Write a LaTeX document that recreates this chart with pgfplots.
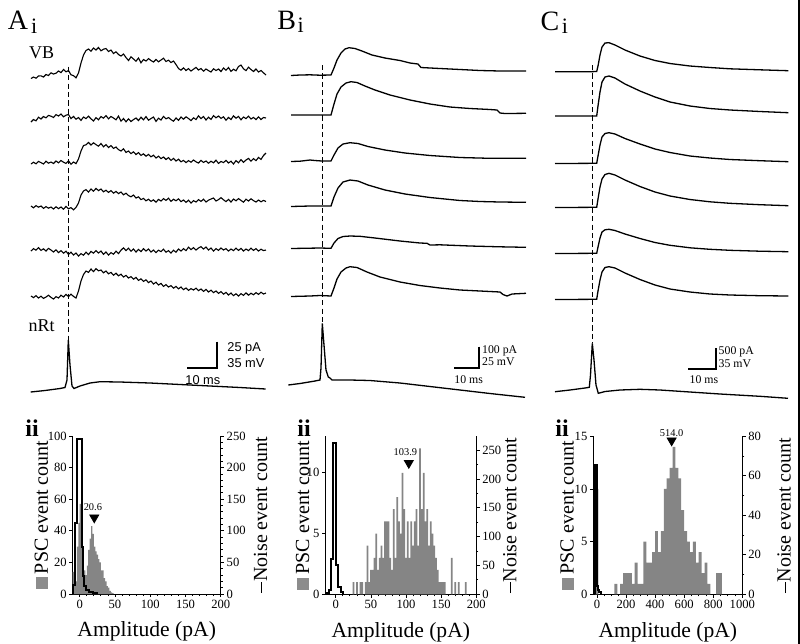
\documentclass[border=0pt]{standalone}
\usepackage{pgfplots}
\pgfplotsset{compat=1.18}
\usepackage{fontspec}
\setmainfont{Liberation Serif}
\newfontfamily\arial{Liberation Sans}
\newcommand\fs[1]{\fontsize{#1}{#1}\selectfont}

\pgfplotsset{
  trace/.style={black, line width=0.55pt, no marks},
  strace/.style={black, line width=0.65pt, no marks},
  stim/.style={black, line width=0.5pt, dash pattern=on 2.6pt off 1.6pt, no marks},
  sbar/.style={black, line width=1pt, no marks},
  hist/.style={scale only axis, height=79pt, anchor=south west, clip=false,
    tick align=outside, major tick length=1.6pt, minor tick length=1pt,
    tick style={black, line width=0.4pt}, axis line style={line width=0.5pt},
    ticklabel style={font=\fs{6.3}, inner sep=1.2pt},
    /pgf/number format/assume math mode=true,
    /pgf/number format/1000 sep={},
    label style={font=\fs{10}}},
  histL/.style={hist, axis x line*=bottom, axis y line*=left,
    xlabel={Amplitude (pA)}, xlabel style={yshift=-2pt, font=\fs{10.8}},
    ylabel={\textcolor{black!45}{\rule{6pt}{6pt}}\,PSC event count},
    ylabel style={at={(axis description cs:#1,0.5)}, anchor=center}},
  histR/.style={hist, axis x line=none, axis y line*=right,
    ylabel={\rule[0.25em]{0.55em}{0.5pt}Noise event count},
    ylabel style={at={(axis description cs:#1,0.5)}, anchor=center}},
  psc/.style={ybar, fill=black!48, draw=none},
  noise/.style={const plot, black, line width=1pt, no marks},
  mean/.style={only marks, mark=triangle*, mark size=2.6pt,
    mark options={rotate=180, fill=black}},
}

\begin{document}
\begin{tikzpicture}
\path[use as bounding box] (0,0) rectangle (400pt,-322pt);

% ---------- traces, in pixel units ----------
\begin{axis}[at={(0,0)}, anchor=north west, scale only axis,
  width=400pt, height=322pt, xmin=0, xmax=800, ymin=0, ymax=644,
  y dir=reverse, hide axis, clip=false]

% A: VB traces
\addplot[trace] coordinates {(31,78.5)(33.5,77)(36,78.2)(38.5,76)(41,75.8)(43.5,77)(46,74.5)(48.5,75.5)(51,72.8)(53.5,74)(56,73.2)(58.5,71)(61,72.6)(63.5,69.5)(66,71.8)(68.5,70.5)(71,74.8)(73.5,75.6)(76,77.8)(78.5,73)(81,63)(83.5,55)(86,50.5)(88.5,49)(91,51.2)(93.5,48)(96,50)(98.5,47.5)(101,50.8)(103.5,49.2)(106,48.5)(108.5,51.5)(111,50)(113.5,53.5)(116,51.8)(118.5,54.5)(121,56)(123.5,54)(126,57.5)(128.5,60.5)(131,56.8)(133.5,59)(136,61.2)(138.5,58)(141,62.8)(143.5,59.5)(146,61)(148.5,58.6)(151,60.5)(153.5,62)(156,59.5)(158.5,61.8)(161,60)(163.5,58.2)(166,61.5)(168.5,60.2)(171,62.5)(173.5,61)(176,64.5)(178.5,68.5)(181,70.2)(183.5,67.8)(186,70.5)(188.5,68.6)(191,71)(193.5,69.2)(196,67.4)(198.5,70)(201,68.5)(203.5,71.2)(206,69)(208.5,70.6)(211,72)(213.5,68.8)(216,70.5)(218.5,69)(221,71.5)(223.5,68)(226,70.2)(228.5,67.5)(231,71.4)(233.5,69.2)(236,70.8)(238.5,66.5)(241,65)(243.5,68.8)(246,70.6)(248.5,67.2)(251,69.5)(253.5,71.5)(256,69)(258.5,72)(261,70.5)(263.5,72.8)(266,75)};
\addplot[trace] coordinates {(31,122)(33.5,119.5)(36,120.8)(38.5,117.2)(41,119)(43.5,116.5)(46,117.8)(48.5,115.4)(51,116.2)(53.5,117.5)(56,114.6)(58.5,116)(61,114)(63.5,116.8)(66,115.2)(68.5,114.5)(71,118.6)(73.5,116.4)(76,119.2)(78.5,117.5)(81,120.4)(83.5,117)(86,118.6)(88.5,116.2)(91,118.8)(93.5,121)(96,117.6)(98.5,119.8)(101,116.5)(103.5,118.2)(106,115.6)(108.5,118.8)(111,116.5)(113.5,118)(116,119.8)(118.5,116)(121,121.2)(123.5,118.5)(126,121.8)(128.5,118.8)(131,121.5)(133.5,119.6)(136,118)(138.5,120.5)(141,117.2)(143.5,119.8)(146,116.6)(148.5,120.2)(151,118.5)(153.5,117)(156,121.4)(158.5,118.2)(161,120)(163.5,116.4)(166,118.8)(168.5,117.5)(171,119.6)(173.5,121.2)(176,118)(178.5,120.4)(181,117)(183.5,119.2)(186,116.8)(188.5,118.5)(191,120.6)(193.5,117.8)(196,119.5)(198.5,115.8)(201,118.6)(203.5,116.5)(206,120)(208.5,117.2)(211,119.4)(213.5,115.6)(216,117.8)(218.5,116)(221,118.4)(223.5,116.8)(226,120.2)(228.5,117.4)(231,119.5)(233.5,115.8)(236,118.2)(238.5,116.4)(241,119.8)(243.5,117)(246,118.6)(248.5,116.2)(251,119)(253.5,117.4)(256,119.6)(258.5,116.8)(261,119.5)(263.5,117.5)(266,118)};
\addplot[trace] coordinates {(31,164)(33.5,162.2)(36,163.8)(38.5,161.4)(41,162.6)(43.5,164)(46,161.2)(48.5,163.2)(51,162)(53.5,163.5)(56,161)(58.5,162.8)(61,160.5)(63.5,162.2)(66,163.4)(68.5,160.8)(71,164.2)(73.5,162)(76,163.6)(78.5,159)(81,151)(83.5,145.5)(86,144.8)(88.5,142.5)(91,145)(93.5,142.8)(96,144.6)(98.5,146.2)(101,143.5)(103.5,146.8)(106,144.6)(108.5,147.5)(111,145.6)(113.5,148.4)(116,147)(118.5,149.6)(121,151)(123.5,148.8)(126,152.4)(128.5,151)(131,153.6)(133.5,151.8)(136,154.5)(138.5,152.6)(141,155.4)(143.5,153.8)(146,156.2)(148.5,154.4)(151,156.8)(153.5,155.2)(156,158)(158.5,156.2)(161,158.6)(163.5,157)(166,159.5)(168.5,157.6)(171,160.4)(173.5,158.4)(176,161)(178.5,159.2)(181,161.8)(183.5,160.4)(186,162.6)(188.5,160.6)(191,162.2)(193.5,160)(196,161.8)(198.5,163)(201,160.4)(203.5,162.4)(206,161)(208.5,163.2)(211,161.2)(213.5,162.8)(216,160.2)(218.5,163.4)(221,161.4)(223.5,162.6)(226,160.4)(228.5,163)(231,161.2)(233.5,164)(236,160.6)(238.5,162.8)(241,159.6)(243.5,162.4)(246,160)(248.5,158.4)(251,161.2)(253.5,158.6)(256,160.6)(258.5,157.4)(261,159.4)(263.5,155.5)(266,153)};
\addplot[trace] coordinates {(31,206)(33.5,207.8)(36,205.6)(38.5,207.2)(41,206)(43.5,208.4)(46,206.6)(48.5,208.2)(51,207)(53.5,209)(56,206.8)(58.5,208.6)(61,207)(63.5,209.2)(66,206.4)(68.5,208.8)(71,207.6)(73.5,209.8)(76,207.4)(78.5,203)(81,195)(83.5,191)(86,189.6)(88.5,192)(91,189)(93.5,191.2)(96,188.4)(98.5,190.6)(101,189)(103.5,191.8)(106,190.2)(108.5,192.4)(111,190.6)(113.5,193.2)(116,191.4)(118.5,193.6)(121,192)(123.5,194.8)(126,193.2)(128.5,195.6)(131,196.8)(133.5,195)(136,198)(138.5,196.8)(141,199.6)(143.5,198.4)(146,200.8)(148.5,199.2)(151,201.4)(153.5,199.8)(156,202.2)(158.5,199.4)(161,201)(163.5,198.6)(166,200.4)(168.5,198.2)(171,201.4)(173.5,199.2)(176,200.8)(178.5,198.8)(181,201.6)(183.5,200)(186,202.4)(188.5,200.2)(191,203)(193.5,200.6)(196,202)(198.5,199.6)(201,201.4)(203.5,199.2)(206,202)(208.5,200.2)(211,199)(213.5,198)(216,201)(218.5,199.6)(221,197.6)(223.5,199.8)(226,201.6)(228.5,199.4)(231,202)(233.5,199)(236,200.8)(238.5,198.6)(241,200.4)(243.5,202.2)(246,199.2)(248.5,201)(251,198.8)(253.5,200.6)(256,202)(258.5,200)(261,201.8)(263.5,200.4)(266,201.5)};
\addplot[trace] coordinates {(31,251)(33.5,248.6)(36,250.2)(38.5,247.6)(41,250.4)(43.5,248.8)(46,251)(48.5,248.4)(51,250)(53.5,252)(56,249.8)(58.5,252.6)(61,250.6)(63.5,253.2)(66,251.2)(68.5,254.4)(71,252.2)(73.5,255)(76,253)(78.5,256)(81,253.6)(83.5,255.2)(86,252.2)(88.5,254.6)(91,251.4)(93.5,253.2)(96,250.6)(98.5,253)(101,251)(103.5,254.4)(106,252)(108.5,255)(111,252.6)(113.5,254.2)(116,251.2)(118.5,253.6)(121,250.2)(123.5,247.8)(126,250.6)(128.5,248.2)(131,251.2)(133.5,249)(136,252)(138.5,249.4)(141,251.6)(143.5,248.6)(146,251)(148.5,249)(151,252)(153.5,250)(156,252.6)(158.5,250.2)(161,251.6)(163.5,249.2)(166,252.2)(168.5,250.6)(171,253)(173.5,250.2)(176,252.2)(178.5,249)(181,251)(183.5,248.6)(186,250.6)(188.5,247.2)(191,249.6)(193.5,247.6)(196,250)(198.5,248)(201,246.6)(203.5,249)(206,247)(208.5,250)(211,248)(213.5,251)(216,248.6)(218.5,250.4)(221,248)(223.5,250)(226,248.6)(228.5,251)(231,249)(233.5,250.6)(236,248.2)(238.5,250.4)(241,248.4)(243.5,251)(246,249)(248.5,250.6)(251,248.2)(253.5,250.4)(256,248.6)(258.5,251)(261,249.2)(263.5,250.6)(266,250)};
\addplot[trace] coordinates {(31,296)(33.5,297.6)(36,295.6)(38.5,298)(41,296.2)(43.5,298.4)(46,297)(48.5,295.2)(51,297.4)(53.5,299)(56,296.6)(58.5,298)(61,295.2)(63.5,297)(66,294.4)(68.5,296.6)(71,294.2)(73.5,296.4)(76,298)(78.5,291)(81,281)(83.5,274.5)(86,271)(88.5,272.4)(91,269)(93.5,271.6)(96,268.6)(98.5,270.8)(101,270)(103.5,272.8)(106,271)(108.5,273.8)(111,272.4)(113.5,275.2)(116,273.2)(118.5,275.8)(121,274.2)(123.5,277)(126,275.4)(128.5,278)(131,276.6)(133.5,279.2)(136,277.4)(138.5,280.4)(141,278.8)(143.5,281.4)(146,279.8)(148.5,282.6)(151,281)(153.5,284)(156,282.2)(158.5,285)(161,283.4)(163.5,286.4)(166,284.6)(168.5,287)(171,285.6)(173.5,288.2)(176,286.4)(178.5,288.8)(181,287)(183.5,289.6)(186,288)(188.5,290.4)(191,288.6)(193.5,290)(196,288.2)(198.5,290.6)(201,289)(203.5,291.4)(206,289.4)(208.5,292)(211,290.2)(213.5,292.6)(216,291)(218.5,293.4)(221,291.6)(223.5,294.2)(226,292.4)(228.5,295)(231,293)(233.5,295.6)(236,293.8)(238.5,296)(241,293.6)(243.5,295.4)(246,292.8)(248.5,295.2)(251,293.2)(253.5,294.8)(256,292.6)(258.5,294.4)(261,292.2)(263.5,294)(266,293)};
% A: nRt
\addplot[strace] coordinates {(30.7,392)(45,390.5)(60,388.5)(65,387.5)(67,380)(68.3,340)(70,365)(72,386)(74,388.5)(80,386)(90,383)(100,381.7)(120,382)(150,383)(180,384.5)(210,386)(240,387.5)(265.7,389)};
\addplot[stim] coordinates {(68.3,66.7)(68.3,340)};
\addplot[sbar] coordinates {(216.7,341.7)(216.7,368.3)(187.3,368.3)};

% B traces
\addplot[strace] coordinates {(291,75.5)(300,75)(310,74.8)(320,75.2)(331,75)(334,68)(337,60)(341,53)(345,49)(349,47.7)(355,48.5)(362,51)(372,55)(385,58)(400,60.5)(410,63)(418,64)(421,67.5)(440,68.5)(460,69.5)(480,70.5)(500,71)(526,71)};
\addplot[strace] coordinates {(291,115)(331,115)(334,104)(337,94)(341,87)(346,83)(351,81.7)(357,82.5)(365,86)(375,90)(390,95)(410,100)(430,104)(450,107)(470,108.5)(490,109.5)(497,110)(500,113)(505,113.5)(526,113.3)};
\addplot[strace] coordinates {(291,161.5)(300,161.2)(310,160)(315,160.5)(322,161)(331,161)(334,155)(338,148)(343,144)(350,142.7)(358,143.5)(368,146.5)(385,150)(405,153)(430,155.5)(460,157.5)(490,158.3)(526,158.3)};
\addplot[strace] coordinates {(291,206.5)(310,206)(331,206)(334,197)(338,188)(343,182)(350,180)(358,181)(368,185)(385,190)(405,194)(430,197.5)(460,200.5)(480,201.5)(500,202)(526,202.3)};
\addplot[strace] coordinates {(291,248.5)(320,248)(331,248.3)(334,243)(338,238.5)(343,236.5)(350,236)(360,236.3)(375,238)(400,241)(420,243)(427,243.3)(430,245)(440,244.8)(470,246)(500,246.8)(526,247.3)};
\addplot[strace] coordinates {(291,296.5)(310,296)(320,295.5)(331,296)(334,288)(337,279)(341,272)(346,268)(350,266.7)(357,267.5)(367,272)(380,277)(400,282)(420,285.5)(440,288)(460,290)(490,291.5)(500,292)(503,294.5)(507,296)(512,294)(526,293.3)};
\addplot[strace] coordinates {(288.3,385)(300,383.5)(315,381)(320,380)(321,368)(322.3,323.3)(324,345)(326,370)(328.3,377)(330,378)(332,380)(350,380)(370,380.5)(400,383)(430,386.5)(460,390)(490,393.5)(525,397.3)};
\addplot[stim] coordinates {(322.3,65)(322.3,323)};
\addplot[sbar] coordinates {(479.3,346.7)(479.3,368.3)(454,368.3)};

% C traces
\addplot[strace] coordinates {(555,71.7)(590,71.7)(596.7,71.5)(598,66)(600,55)(602,47)(605,43)(609,42.7)(615,45)(625,50)(640,56)(655,60.5)(670,63.5)(690,66)(710,67.5)(730,68.8)(760,69.8)(788.3,70.7)};
\addplot[strace] coordinates {(555,116)(596.7,116)(598,106)(600,92)(602,82)(605,77)(609,76)(615,78)(625,84)(640,91)(655,97)(670,102)(690,106)(710,108.5)(730,110)(760,111.5)(788.3,112.7)};
\addplot[strace] coordinates {(555,163.5)(596.7,163.3)(598,156)(600,145)(602,137)(605,133.5)(609,132.7)(615,134)(625,138.5)(640,144)(655,149)(670,152.5)(690,156)(710,158)(730,159.5)(760,160.7)(788.3,161.7)};
\addplot[strace] coordinates {(555,207.5)(596.7,207.3)(598,199)(600,187)(602,179)(605,174.5)(609,173.3)(615,175)(625,180)(640,186.5)(655,192)(670,196)(690,199.5)(710,201.8)(730,203.3)(760,204.7)(788.3,205.7)};
\addplot[strace] coordinates {(555,253.5)(596.7,253.3)(598,247)(600,238)(602,232)(605,229.8)(609,229.3)(615,230.5)(625,234)(640,238.5)(655,242.5)(670,245.3)(690,247.8)(710,249.3)(730,250.3)(760,251.2)(788.3,251.7)};
\addplot[strace] coordinates {(555,299.5)(596.7,299.3)(598,291)(600,280)(602,272)(605,267.5)(609,266.7)(615,268)(625,273)(640,279.5)(655,285)(670,289)(690,292)(710,294)(730,295)(760,295.7)(788.3,296)};
\addplot[strace] coordinates {(555,391.7)(570,390)(585,388)(589.3,387.3)(590.5,375)(592.3,343.3)(594,360)(596,385)(598.3,393.3)(605,391.5)(620,390)(640,389.3)(660,390)(690,392)(720,394)(760,396.3)(788,398.3)};
\addplot[stim] coordinates {(592.3,65)(592.3,343)};
\addplot[sbar] coordinates {(715.7,348.3)(715.7,369.3)(688.3,369.3)};

% panel texts
\node[font=\fs{14}] at (axis cs:18,20) {A};
\node[font=\fs{11}] at (axis cs:34.2,26) {i};
\node[font=\fs{14}] at (axis cs:286.7,20.5) {B};
\node[font=\fs{11}] at (axis cs:300.8,25) {i};
\node[font=\fs{14}] at (axis cs:550,21) {C};
\node[font=\fs{11}] at (axis cs:565,26.5) {i};
\node[font=\fs{9}] at (axis cs:41.7,52.5) {VB};
\node[font=\fs{9}] at (axis cs:41.7,326) {nRt};
\node[font=\arial\fs{6.4}, anchor=west, inner sep=0pt] at (axis cs:227,348) {25 pA};
\node[font=\arial\fs{6.4}, anchor=west, inner sep=0pt] at (axis cs:227,362.7) {35 mV};
\node[font=\arial\fs{6.4}, anchor=west, inner sep=0pt] at (axis cs:185,380) {10 ms};
\node[font=\fs{5.9}, anchor=west, inner sep=0pt] at (axis cs:481.7,351) {100 pA};
\node[font=\fs{5.9}, anchor=west, inner sep=0pt] at (axis cs:481.7,361.7) {25 mV};
\node[font=\fs{5.9}, anchor=west, inner sep=0pt] at (axis cs:454,379.3) {10 ms};
\node[font=\fs{5.9}, anchor=west, inner sep=0pt] at (axis cs:718.3,351.7) {500 pA};
\node[font=\fs{5.9}, anchor=west, inner sep=0pt] at (axis cs:718.3,363.3) {35 mV};
\node[font=\fs{5.9}, anchor=west, inner sep=0pt] at (axis cs:689.3,379.3) {10 ms};
\node[font=\bfseries\fs{12}] at (axis cs:32,428) {ii};
\node[font=\bfseries\fs{12}] at (axis cs:304,428) {ii};
\node[font=\bfseries\fs{12}] at (axis cs:562,428) {ii};
\end{axis}

% ---------- histogram A ----------
\begin{axis}[histL=-0.212, at={(72.7*0.5pt,-594*0.5pt)}, width=74pt,
  xmin=-10, xmax=200, ymin=0, ymax=100,
  xtick={0,50,...,200}, ytick={0,20,...,100}, minor x tick num=4]
\addplot[psc, bar width=2] coordinates {(-9,14)(-7,6)(-5,8)(-3,30)(-1,45)(1,57)(3,40)(5,20)(7,15)(9,12)(11,18)(13,28)(15,35)(17,43)(19,38)(21,30)(23,27)(25,25)(27,22)(29,20)(31,15)(33,15)(35,10)(37,8)(39,5)(41,4)(43,2)(45,1)(47,0.5)};
\addplot[mean] coordinates {(20.6,48.4)};
\node[font=\fs{5.2}] at (axis cs:18.6,54.8) {20.6};
\end{axis}
\begin{axis}[histR=1.27, at={(72.7*0.5pt,-594*0.5pt)}, width=74pt,
  xmin=-10, xmax=200, ymin=0, ymax=250, ytick={0,50,...,250}, minor y tick num=4]
\addplot[noise] coordinates {(-9.5,0)(-9.5,14)(-6.5,112)(-3.5,245)(3.2,75)(4.5,28)(6,12)(9,6)(13,3)(19,1)(25,0)};
\end{axis}

% ---------- histogram B ----------
\begin{axis}[histL=-0.15, at={(325.3*0.5pt,-594.3*0.5pt)}, width=75.5pt,
  xmin=-15, xmax=200, ymin=0, ymax=13,
  xtick={0,50,...,200}, ytick={0,5,10}, minor x tick num=4]
\addplot[psc, bar width=2.5] coordinates {(25,1)(30,1)(35,1)(37.5,1)(42.5,1)(45,4)(47.5,1)(50,2)(52.5,2)(55,3)(57.5,5)(60,2)(62.5,3)(65,4)(67.5,3)(70,6)(72.5,6)(75,6)(77.5,3)(80,2)(82.5,7)(85,3)(87.5,8)(90,6)(92.5,5)(95,10)(97.5,7)(100,3)(102.5,6)(105,3)(107.5,6)(110,4)(112.5,6)(115,7)(117.5,4)(120,12)(122.5,7)(125,10)(127.5,6)(130,7)(132.5,4)(135,6)(137.5,5)(140,4)(142.5,3)(145,2)(147.5,1)(150,1)(152.5,1)(155,1)(165,3)(170,1)(175,1)(185,1)};
\addplot[mean] coordinates {(103.9,10.8)};
\node[font=\fs{5.2}] at (axis cs:99,11.7) {103.9};
\end{axis}
\begin{axis}[histR=1.223, at={(325.3*0.5pt,-594.3*0.5pt)}, width=75.5pt,
  xmin=-15, xmax=200, ymin=0, ymax=274, ytick={0,50,...,250}, minor y tick num=1]
\addplot[noise] coordinates {(-12,0)(-12,3)(-10,8)(-7.3,62)(-4,262)(0.7,50)(3.1,13)(7.9,4)(10.3,0)};
\end{axis}

% ---------- histogram C ----------
\begin{axis}[histL=-0.175, at={(593.3*0.5pt,-594.3*0.5pt)}, width=74.5pt,
  xmin=-25, xmax=1000, ymin=0, ymax=15,
  xtick={0,200,...,1000}, ytick={0,5,10,15}, minor x tick num=3]
\addplot[psc, bar width=20] coordinates {(0,10)(130,1)(170,1)(190,2)(210,2)(230,2)(250,1)(270,3)(290,1)(310,1)(330,5)(350,3)(370,3)(390,4)(410,6)(430,4)(450,6)(470,10)(490,11)(510,12)(530,14)(550,12)(570,11)(590,8)(610,6)(630,5)(650,4)(670,5)(690,3)(710,4)(730,2)(750,3)(770,1)(830,2)(850,2)};
\addplot[mean] coordinates {(514,14.6)};
\node[font=\fs{5.2}] at (axis cs:514,15.35) {514.0};
\end{axis}
\begin{axis}[histR=1.28, at={(593.3*0.5pt,-594.3*0.5pt)}, width=74.5pt,
  xmin=-25, xmax=1000, ymin=0, ymax=80, ytick={0,20,...,80}, minor y tick num=1]
\addplot[noise] coordinates {(-14,0)(-14,65.5)(1.5,4)(6,2)(12,1)(25,0)};
\end{axis}

\draw[line width=1pt] (399.3pt,0pt) -- (399.3pt,-322pt);
\end{tikzpicture}
\end{document}
